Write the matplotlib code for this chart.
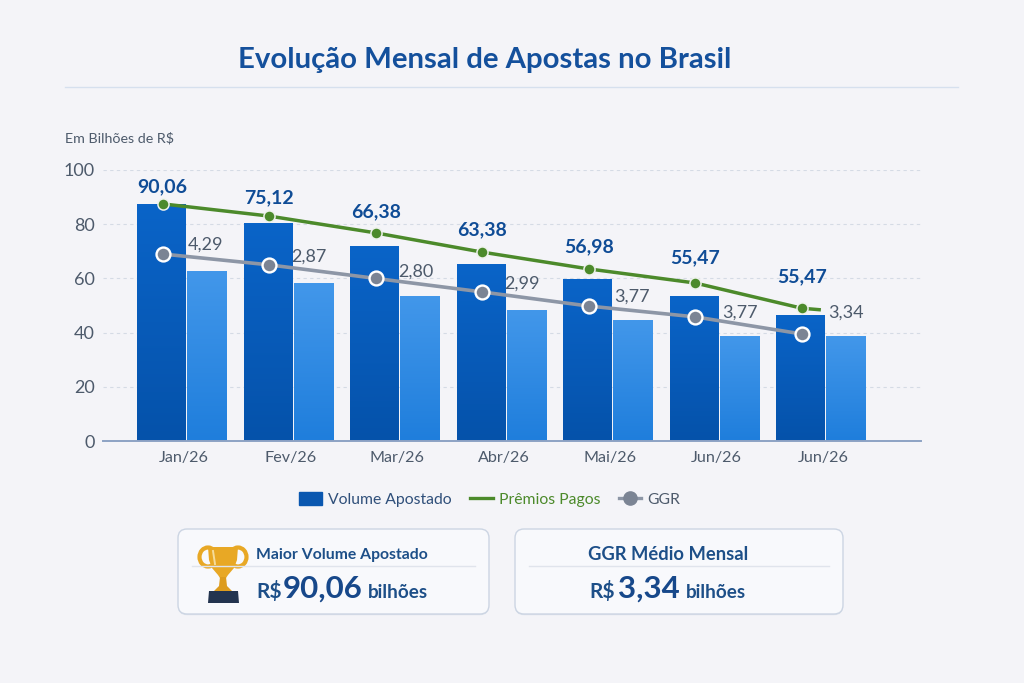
import numpy as np
import matplotlib
matplotlib.use('Agg')
import matplotlib.pyplot as plt
from matplotlib.colors import LinearSegmentedColormap
from matplotlib.lines import Line2D
from matplotlib.patches import Patch, FancyBboxPatch, Polygon, Ellipse

plt.rcParams['font.family'] = ['Lato', 'DejaVu Sans']

meses = ['Jan/26', 'Fev/26', 'Mar/26', 'Abr/26', 'Mai/26', 'Jun/26', 'Jun/26']
volume = [87.5, 80.5, 72.0, 65.3, 59.8, 53.5, 46.5]
volume2 = [62.7, 58.3, 53.5, 48.3, 44.6, 38.7, 38.7]
premios = [87.5, 83.0, 76.8, 69.7, 63.5, 58.3, 49.0]
premios_fim = 48.4
ggr = [69.0, 65.0, 60.0, 55.0, 49.8, 45.8, 39.5]
rot_premios = ['90,06', '75,12', '66,38', '63,38', '56,98', '55,47', '55,47']
rot_ggr = ['4,29', '2,87', '2,80', '2,99', '3,77', '3,77', '3,34']
yticks = [0, 20, 40, 60, 80, 100]

W, H = 1024, 683
NAVY = '#0f4c96'
TEXTO = '#4d5a6b'
CARD = '#1d4f88'
FUNDO = '#f4f4f8'

fig = plt.figure(figsize=(W / 100, H / 100), dpi=100, facecolor=FUNDO)

# camada em pixels para titulo, cartoes e trofeu
ov = fig.add_axes([0, 0, 1, 1], zorder=0)
ov.set_xlim(0, W)
ov.set_ylim(H, 0)
ov.axis('off')

ax = fig.add_axes([103 / W, (H - 441) / H, 818 / W, 271 / H], zorder=1)
ax.patch.set_alpha(0)

x = np.arange(len(meses))
w1, w2 = 0.46, 0.37

cm1 = LinearSegmentedColormap.from_list('c1', ['#0a64c8', '#0552aa'])
cm2 = LinearSegmentedColormap.from_list('c2', ['#4297ea', '#1f7edc'])
grad = np.linspace(0, 1, 64).reshape(-1, 1)


def barras(xs, vals, largura, cmap):
    for b in ax.bar(xs, vals, largura, color='none', align='edge', zorder=2):
        im = ax.imshow(grad, cmap=cmap, aspect='auto', zorder=2, interpolation='bilinear',
                       extent=(b.get_x(), b.get_x() + largura, 0, b.get_height()))
        im.set_clip_path(b)


barras(x - w1, volume, w1, cm1)
barras(x + 0.012, volume2, w2, cm2)

lx = x - 0.22
ax.plot(np.r_[lx, lx[-1] + 0.18], premios + [premios_fim], color='#4c8a2b', lw=2.5, zorder=3,
        solid_capstyle='butt')
ax.plot(lx, premios, ls='none', marker='o', ms=8, mfc='#4c8a2b', mec='#eef2ec', mew=1.1, zorder=4)
ax.plot(lx, ggr, color='#8d96a6', lw=2.6, zorder=3)
ax.plot(lx, ggr, ls='none', marker='o', ms=10, mfc='#7b8494', mec='white', mew=1.7, zorder=4)

# deslocamento dos rotulos em pixels
desl_p = [17, 18, 21, 22, 22, 25, 31]
desl_gx = [43, 40, 40, 40, 43, 45, 44]
desl_gy = [9, 8, 7, 8, 9, 4, 21]
for i in x:
    ax.annotate(rot_premios[i], (lx[i], premios[i]), xytext=(0, desl_p[i] * 0.72), textcoords='offset points',
                ha='center', va='center', fontsize=14, fontweight='bold', color=NAVY, zorder=5)
    ax.annotate(rot_ggr[i], (lx[i], ggr[i]), xytext=(desl_gx[i] * 0.72, desl_gy[i] * 0.72),
                textcoords='offset points', ha='center', va='center', fontsize=13, color=TEXTO, zorder=5)

ax.set_xlim(-0.78, 6.9)
ax.set_ylim(0, 100)
ax.set_xticks(x - 0.02, meses, fontsize=11.6, color=TEXTO)
ax.set_yticks(yticks, [str(t) for t in yticks], fontsize=13, color=TEXTO)
ax.tick_params(length=0)
ax.tick_params(axis='x', pad=7)
ax.tick_params(axis='y', pad=6)
ax.grid(axis='y', color='#d5dbe5', ls=(0, (3, 3)), lw=0.8, zorder=0)
ax.set_axisbelow(True)
for s in ['top', 'right', 'left']:
    ax.spines[s].set_visible(False)
ax.spines['bottom'].set_color('#8da2c4')
ax.spines['bottom'].set_linewidth(1.4)

handles = [
    Patch(facecolor='#0a57b0', edgecolor='#0a57b0'),
    Line2D([], [], color='#4c8a2b', lw=2.4),
    Line2D([], [], color='#8d96a6', lw=2.4, marker='o', ms=9.5, mfc='#7b8494', mec='#7b8494'),
]
leg = ax.legend(handles, ['Volume Apostado', 'Prêmios Pagos', 'GGR'], ncol=3, frameon=False,
                loc='center', bbox_to_anchor=(0.473, -0.217), fontsize=11.3, numpoints=1,
                handlelength=1.45, handleheight=0.9, handletextpad=0.4, columnspacing=1.15)
for t, c in zip(leg.get_texts(), ['#2f4f7a', '#4c8a2b', TEXTO]):
    t.set_color(c)

# titulo
ov.text(485, 60, 'Evolução Mensal de Apostas no Brasil', ha='center', va='center',
        fontsize=21.2, fontweight='bold', color='#14509c')
ov.plot([65, 958], [87, 87], color='#d6e0ee', lw=1)
ov.text(65, 138, 'Em Bilhões de R$', ha='left', va='center', fontsize=10.3, color=TEXTO)


def cartao(x0, x1, y0, y1):
    ov.add_patch(FancyBboxPatch((x0, y0 + 1.2), x1 - x0, y1 - y0, boxstyle='round,pad=0,rounding_size=9',
                                fc='#dde2ec', ec='none'))
    ov.add_patch(FancyBboxPatch((x0, y0), x1 - x0, y1 - y0, boxstyle='round,pad=0,rounding_size=9',
                                fc='#f8f9fc', ec='#ccd5e3', lw=1))
    ov.plot([x0 + 14, x1 - 14], [566, 566], color='#e0e4ec', lw=1)


cartao(178, 489, 529, 614)
cartao(515, 843, 529, 614)

ov.text(256, 555, 'Maior Volume Apostado', va='center', fontsize=11.3, fontweight='bold', color=CARD)
ov.text(256, 598, 'R$', va='baseline', fontsize=15, fontweight='bold', color=CARD)
ov.text(283, 598, '90,06', va='baseline', fontsize=22.5, fontweight='bold', color='#17488a')
ov.text(368, 598, 'bilhões', va='baseline', fontsize=13.6, fontweight='bold', color=CARD)

ov.text(668, 555, 'GGR Médio Mensal', ha='center', va='center', fontsize=13.2, fontweight='bold', color=CARD)
ov.text(589, 598, 'R$', va='baseline', fontsize=15, fontweight='bold', color=CARD)
ov.text(618, 598, '3,34', va='baseline', fontsize=22.5, fontweight='bold', color='#17488a')
ov.text(686, 598, 'bilhões', va='baseline', fontsize=13.6, fontweight='bold', color=CARD)

# trofeu
OURO = '#e8a825'
ov.add_patch(Ellipse((208, 557), 17, 19, fc='none', ec=OURO, lw=3))
ov.add_patch(Ellipse((238, 557), 17, 19, fc='none', ec=OURO, lw=3))
ov.add_patch(Polygon([(208, 547), (238, 547), (237, 560), (234, 568), (228, 575), (226, 578), (220, 578),
                      (218, 575), (212, 568), (209, 560)], fc=OURO, ec='none'))
ov.add_patch(Polygon([(220, 577), (226, 577), (227, 586), (233, 592), (213, 592), (219, 586)], fc='#dd9c1e', ec='none'))
ov.add_patch(Polygon([(209, 591), (238, 591), (239, 603), (208, 603)], fc='#23344f', ec='none'))
ov.plot([213, 215], [551, 564], color='#f6dc9a', lw=1.4)

fig.savefig('out.png', dpi=100, facecolor=FUNDO)
